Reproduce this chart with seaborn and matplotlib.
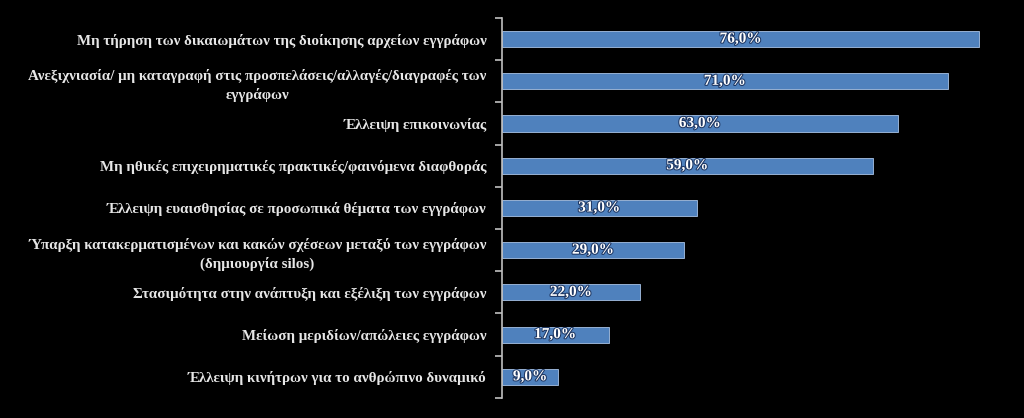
import matplotlib
matplotlib.use("Agg")
import matplotlib.pyplot as plt
import matplotlib.patheffects as pe
import numpy as np
import pandas as pd
import seaborn as sns

# Δεδομένα
categories = [
    "Μη τήρηση των δικαιωμάτων της διοίκησης αρχείων εγγράφων",
    "Ανεξιχνιασία/ μη καταγραφή στις προσπελάσεις/αλλαγές/διαγραφές των\nεγγράφων",
    "Έλλειψη επικοινωνίας",
    "Μη ηθικές επιχειρηματικές πρακτικές/φαινόμενα διαφθοράς",
    "Έλλειψη ευαισθησίας σε προσωπικά θέματα των εγγράφων",
    "Ύπαρξη κατακερματισμένων και κακών σχέσεων μεταξύ των εγγράφων\n(δημιουργία silos)",
    "Στασιμότητα στην ανάπτυξη και εξέλιξη των εγγράφων",
    "Μείωση μεριδίων/απώλειες εγγράφων",
    "Έλλειψη κινήτρων για το ανθρώπινο δυναμικό",
]
values = [76.0, 71.0, 63.0, 59.0, 31.0, 29.0, 22.0, 17.0, 9.0]
value_labels = ["76,0%", "71,0%", "63,0%", "59,0%", "31,0%", "29,0%", "22,0%", "17,0%", "9,0%"]

df = pd.DataFrame({"cat": categories, "val": values})

sns.set_theme(style="white")
plt.rcParams["font.family"] = ["Liberation Serif", "DejaVu Serif"]

fig = plt.figure(figsize=(10.24, 4.18), dpi=100, facecolor="black")
ax = fig.add_axes([0.490, 0.048, 0.491, 0.909])
ax.set_facecolor("black")

sns.barplot(data=df, x="val", y="cat", color="#4F81BD", saturation=1,
            width=0.38, edgecolor="#A9C3E6", linewidth=0.6, ax=ax)

ax.set_xlim(0, 80)
ax.set_ylim(len(categories) - 0.5, -0.5)
ax.set_xlabel("")
ax.set_ylabel("")
ax.set_xticks([])

for s in ["top", "right", "bottom"]:
    ax.spines[s].set_visible(False)
ax.spines["left"].set_color("#BFBFBF")
ax.spines["left"].set_linewidth(1.2)

# ετικέτες κατηγοριών
ax.set_yticks(np.arange(len(categories)))
ax.set_yticklabels(categories, color="#E6E6E6", fontsize=10.8, fontweight="bold",
                   multialignment="center", linespacing=1.45)
ax.tick_params(axis="y", which="major", left=False, length=0, pad=11)
ax.set_yticks(np.arange(len(categories) + 1) - 0.5, minor=True)
ax.tick_params(axis="y", which="minor", left=True, length=5, color="#BFBFBF",
               width=1.2, direction="out")

# ετικέτες τιμών
for i, (v, lab) in enumerate(zip(values, value_labels)):
    ax.text(v / 2, i, lab, ha="center", va="center", color="white",
            fontsize=11, fontweight="bold",
            path_effects=[pe.withStroke(linewidth=1.5, foreground="#1F3864")])

fig.savefig("out.png", dpi=100, facecolor="black")
